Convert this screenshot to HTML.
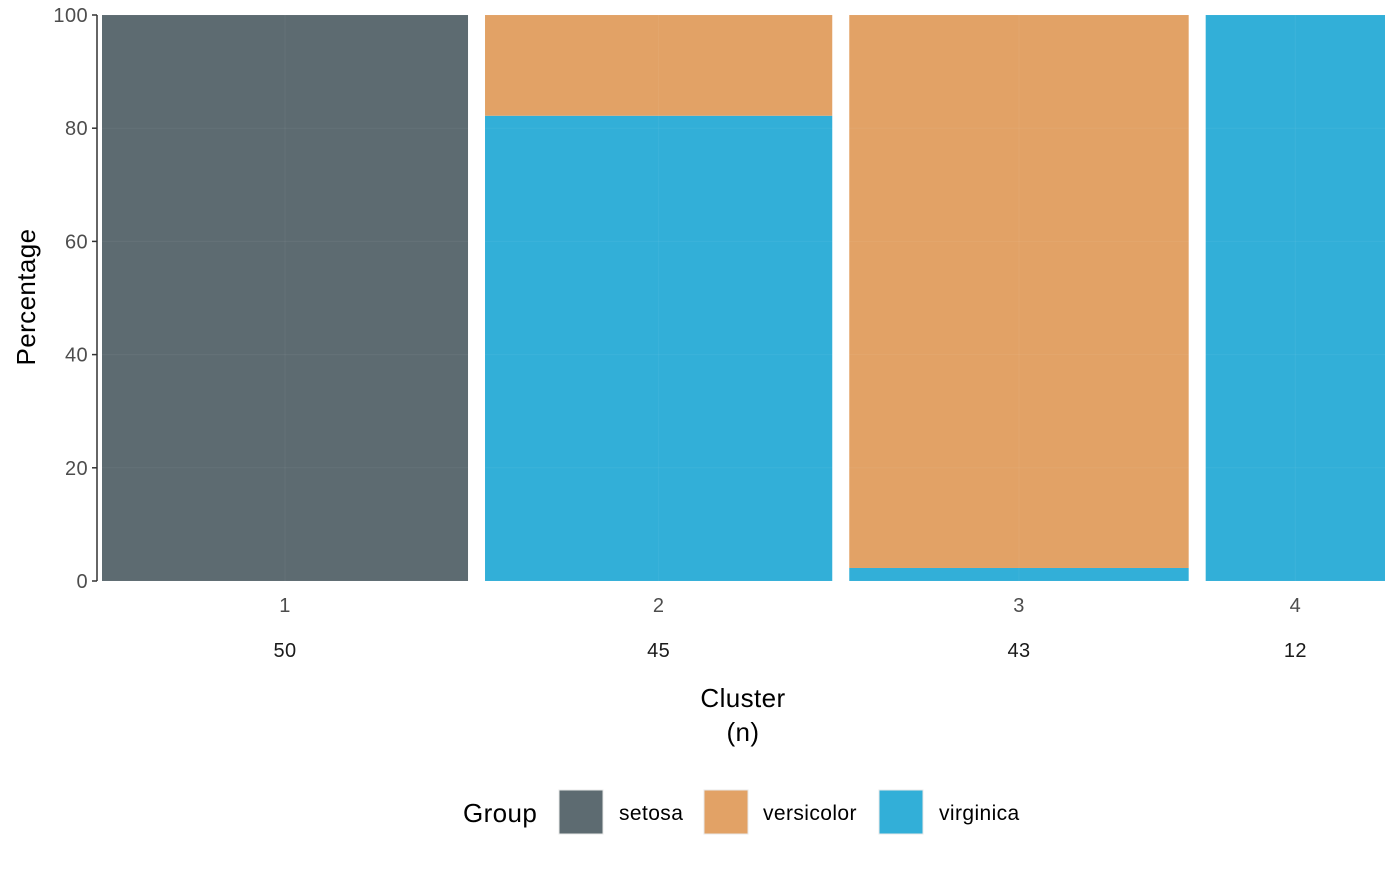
<!DOCTYPE html>
<html><head><meta charset="utf-8"><style>
body{margin:0;background:#fff;font-family:"Liberation Sans",Arial,sans-serif}
svg text{font-family:"Liberation Sans",Arial,sans-serif;letter-spacing:0.4px}
</style></head><body>
<svg id="chart" width="1400" height="865" xmlns="http://www.w3.org/2000/svg">
<g id="bars"></g><g id="axes"></g>
<text x="743" y="707" font-size="26" text-anchor="middle" fill="#000">Cluster</text>
<text x="743" y="741" font-size="26" text-anchor="middle" fill="#000">(n)</text>
<text transform="translate(35,297) rotate(-90)" font-size="26" text-anchor="middle" fill="#000">Percentage</text>
<g>
<text x="463" y="822" font-size="26" fill="#000">Group</text>
<g><rect x="559" y="790" width="44" height="44" fill="#5d6b71" stroke="#e8e8e8"/><text x="619" y="820" font-size="21">setosa</text></g>
<g><rect x="704" y="790" width="44" height="44" fill="#e2a266" stroke="#e8e8e8"/><text x="763" y="820" font-size="21">versicolor</text></g>
<g><rect x="879" y="790" width="44" height="44" fill="#32afd8" stroke="#e8e8e8"/><text x="939" y="820" font-size="21">virginica</text></g>
</g>
</svg>
<script>
const clusters=["1","2","3","4"];
const counts=[50,45,43,12];
const setosa=[100,0,0,0];
const versicolor=[0,17.8,97.7,0];
const virginica=[0,82.2,2.3,100];
const yTicks=[0,20,40,60,80,100];
const groups=[["setosa",setosa,"#5d6b71"],["virginica",virginica,"#32afd8"],["versicolor",versicolor,"#e2a266"]];
const NS="http://www.w3.org/2000/svg";
const x0=102,x1=1385,gap=17,y0=581,yTop=15;
const sq=counts.map(n=>Math.sqrt(n));
const k=(x1-x0-gap*(counts.length-1))/sq.reduce((a,b)=>a+b,0);
const y=v=>y0-(v/100)*(y0-yTop);
const barsG=document.getElementById('bars'),axG=document.getElementById('axes');
function mk(tag,attrs,parent){const e=document.createElementNS(NS,tag);for(const a in attrs)e.setAttribute(a,attrs[a]);parent.appendChild(e);return e;}
let cx=x0;
clusters.forEach((c,i)=>{
  const w=k*sq[i];
  let acc=0;
  groups.forEach(([name,arr,col])=>{
    const v=arr[i];if(v<=0)return;
    const r=mk('rect',{x:cx,y:y(acc+v),width:w,height:y(acc)-y(acc+v),fill:col},barsG);
    
    
    acc+=v;
  });
  const m=cx+w/2;
  const t=mk('text',{x:m,y:612,'font-size':20,'text-anchor':'middle',fill:'#4d4d4d'},axG);t.textContent=c;
  
  
  const t2=mk('text',{x:m,y:657,'font-size':20,'text-anchor':'middle',fill:'#1a1a1a'},axG);t2.textContent=counts[i];
  
  
  mk('line',{x1:m,x2:m,y1:yTop,y2:y0,stroke:'#ffffff','stroke-opacity':0.05,'stroke-width':1},barsG);
  cx+=w+gap;
});
yTicks.forEach(v=>{
  mk('line',{x1:x0,x2:x1,y1:y(v),y2:y(v),stroke:'#ffffff','stroke-opacity':0.05},barsG);
  mk('line',{x1:92,x2:97,y1:y(v),y2:y(v),stroke:'#333','stroke-width':1.5},axG);
  const t=mk('text',{x:88,y:y(v)+7,'font-size':20,'text-anchor':'end',fill:'#4d4d4d'},axG);t.textContent=v;
  
  
});
const ax=mk('line',{x1:97,x2:97,y1:yTop,y2:y0,stroke:'#333','stroke-width':1.5},axG);


</script>
</body></html>
